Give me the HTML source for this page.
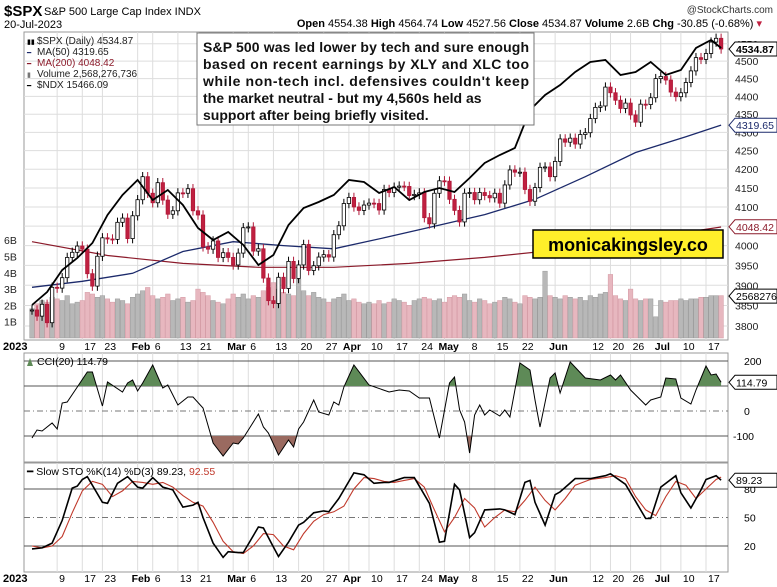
<!DOCTYPE html>
<html><head><meta charset="utf-8"><style>
body{margin:0;background:#fff;width:777px;height:587px;overflow:hidden;font-family:"Liberation Sans",sans-serif;}
svg{position:absolute;left:0;top:0}
text{font-family:"Liberation Sans",sans-serif}
</style></head><body>
<svg id="chart" width="777" height="587" viewBox="0 0 777 587"></svg>
<script>
const closes=[3839,3824,3853,3808,3895,3893,3919,3970,3983,3999,3991,3929,3898,3973,4020,4017,4016,4060,4071,4018,4077,
4119,4180,4136,4111,4164,4118,4081,4090,4137,4136,4148,4090,4079,3997,3991,4012,3970,3982,3970,
3951,3981,4046,4048,3986,3992,3918,3862,3855,3920,3892,3960,3917,3951,4003,3937,3949,3971,3977,3971,4028,4051,4109,
4125,4100,4091,4105,4110,4109,4092,4146,4138,4152,4155,4154,4130,4133,4137,4072,4056,4136,4169,
4168,4120,4091,4061,4136,4138,4119,4138,4130,4124,4136,4110,4158,4198,4192,4192,4146,4115,4151,4205,4206,4180,
4221,4282,4273,4284,4268,4294,4299,4338,4369,4373,4426,4410,4389,4366,4381,4348,4328,4378,4377,4396,4450,
4456,4446,4412,4399,4410,4439,4472,4510,4505,4522,4555,4566,4535];
const volumes=[1.8,2.1,2.3,2.2,2.5,2.4,2.3,2.6,2.1,2.2,2.3,2.8,2.7,2.5,2.6,2.4,2.2,2.4,2.3,2.1,2.5,
2.7,2.9,3.1,2.6,2.4,2.5,2.7,2.3,2.4,2.5,2.2,2.3,3.0,2.8,2.6,2.3,2.2,2.1,2.4,2.7,
2.5,2.7,2.4,2.6,2.5,2.9,3.1,3.4,3.0,2.8,2.7,2.6,3.6,2.9,2.6,2.8,2.5,2.4,2.2,2.4,
2.5,2.7,2.3,2.4,2.2,2.1,2.2,2.1,2.3,2.1,2.2,2.4,2.3,2.2,2.0,2.3,2.4,2.5,2.4,2.3,
2.4,2.2,2.5,2.6,2.5,2.7,2.3,2.2,2.4,2.3,2.1,2.2,2.3,2.5,2.4,2.2,2.1,2.6,2.5,2.4,
2.5,4.1,2.6,2.5,2.4,2.6,2.5,2.4,2.5,2.3,2.6,2.5,2.7,2.8,3.9,2.6,2.4,2.3,3.0,2.4,
2.3,2.4,2.4,1.3,2.3,2.2,2.3,2.3,2.4,2.3,2.4,2.4,2.5,2.5,2.6,2.6,2.6];
const ma50Pts=[[0,3895],[10,3910],[20,3930],[30,3985],[40,4010],[50,4000],[60,3992],[70,4020],[80,4050],[90,4080],[100,4120],[110,4180],[120,4245],[130,4288],[137,4320]];
const ma200Pts=[[0,4010],[15,3975],[30,3955],[45,3945],[60,3945],[75,3955],[90,3970],[105,3990],[120,4015],[137,4048]];
const ndxPts=[[0,11228],[3,11455],[6,11840],[9,12050],[12,12313],[15,12803],[18,13153],[21,13415],[24,13065],[27,13240],[30,12978],[33,12575],[36,12365],[39,12505],[42,12278],[45,11928],[48,12103],[51,12628],[54,12925],[57,13030],[60,13153],[63,13415],[66,13380],[69,13188],[72,13293],[75,13065],[78,13205],[81,13275],[84,13205],[87,13450],[90,13713],[93,13853],[96,13975],[99,14640],[102,14903],[105,15078],[108,15305],[111,15480],[114,15515],[117,15253],[120,15305],[123,15480],[126,15253],[129,15340],[132,15725],[135,15865],[137,15725]];
const cciPts=[[0,-108],[1,-76],[2,-80],[4,-48],[5,-72],[6,32],[7,36],[9,96],[11,156],[12,156],[14,20],[15,116],[18,76],[19,112],[20,124],[21,80],[22,112],[24,184],[26,92],[27,104],[29,24],[31,56],[32,56],[34,12],[36,-128],[38,-180],[40,-128],[41,-132],[42,-108],[45,-12],[46,-64],[47,-88],[49,-176],[51,-116],[52,-144],[53,-72],[54,-44],[56,44],[57,-4],[59,-16],[60,36],[61,24],[62,96],[64,184],[67,104],[71,76],[73,84],[75,80],[77,52],[79,52],[81,-108],[83,112],[84,136],[85,4],[86,-44],[87,-168],[88,-16],[89,24],[90,-16],[91,4],[93,-20],[94,4],[95,-24],[97,192],[99,164],[100,44],[101,-64],[103,132],[104,152],[105,72],[107,196],[110,132],[113,124],[115,144],[116,124],[117,144],[119,84],[120,64],[122,24],[123,44],[125,56],[126,132],[128,128],[129,52],[131,28],[132,84],[134,180],[135,144],[136,148],[137,114.79]];
const stoK=[[0,17],[2,18],[4,23],[6,47],[8,81],[9,83],[10,90],[11,93],[14,66],[15,65],[17,86],[19,93],[21,82],[22,81],[24,92],[26,82],[28,79],[30,61],[32,63],[33,66],[34,50],[36,23],[38,8],[39,14],[41,13],[42,13],[45,40],[46,39],[48,19],[49,9],[51,24],[53,42],[54,45],[56,55],[58,57],[59,56],[61,70],[64,97],[66,95],[68,86],[70,87],[71,87],[74,92],[76,92],[79,65],[81,24],[82,25],[84,85],[85,79],[87,29],[88,34],[90,58],[93,59],[94,58],[96,53],[98,87],[99,89],[100,66],[102,42],[104,74],[105,77],[108,91],[111,91],[114,94],[115,96],[118,85],[122,49],[123,49],[125,82],[128,94],[129,76],[131,60],[133,79],[134,90],[136,94],[137,89.23]];
const stoD=[[0,20],[2,18],[4,20],[6,30],[8,55],[10,78],[12,88],[14,85],[16,72],[18,78],[20,88],[22,87],[24,85],[26,87],[28,82],[30,73],[32,66],[34,62],[36,45],[38,25],[40,14],[42,12],[44,20],[46,33],[48,32],[50,20],[52,16],[54,33],[56,46],[58,53],[60,56],[62,62],[64,80],[66,92],[68,91],[70,88],[72,87],[74,89],[76,91],[78,82],[80,58],[82,35],[84,50],[86,70],[88,60],[90,40],[92,50],[94,58],[96,56],[98,68],[100,82],[102,68],[104,58],[106,70],[108,84],[111,90],[114,92],[116,94],[118,91],[120,72],[122,58],[124,52],[126,72],[128,88],[130,84],[132,70],[134,80],[136,90],[137,92.55]];
const priceTicks=[4550,4500,4450,4400,4350,4300,4250,4200,4150,4100,4050,4000,3950,3900,3850,3800];
const volTicks=[6,5,4,3,2,1];
const dateTicks=[[5,"9",0],[10,"17",0],[14,"23",0],[21,"Feb",1],[24,"6",0],[29,"13",0],[33,"21",0],[40,"Mar",1],[43,"6",0],[48,"13",0],[53,"20",0],[58,"27",0],[63,"Apr",1],[67,"10",0],[72,"17",0],[77,"24",0],[82,"May",1],[87,"8",0],[92,"15",0],[97,"22",0],[104,"Jun",1],[111,"12",0],[115,"20",0],[119,"26",0],[125,"Jul",1],[129,"10",0],[134,"17",0]];

const NS="http://www.w3.org/2000/svg";
const svg=document.getElementById('chart');
const L=24,R=728;
const x=i=>32+5.03*i;
const yP=p=>326-Math.log(p/3800)/0.180*282;
const yN=v=>318-(v-11000)/4900*280;
const yV=v=>338-v*16.3;
const yC=v=>411-v*0.25;
const yS=v=>546-(v-20)*0.95;
function el(tag,attrs,parent){const e=document.createElementNS(NS,tag);for(const k in attrs)e.setAttribute(k,attrs[k]);(parent||svg).appendChild(e);return e;}
function txt(s,a,p){const t=el('text',a,p);t.textContent=s;return t;}
function pline(pts,fx,fy){return pts.map(p=>x(p[0]).toFixed(1)+','+fy(p[1]).toFixed(1)).join(' ');}

let t;
t=txt('$SPX',{x:4,y:16,'font-size':15,'font-weight':'bold'});
t=txt('S&P 500 Large Cap Index  INDX',{x:44,y:15,'font-size':11});
t=txt('20-Jul-2023',{x:4,y:28,'font-size':11});
t=txt('@StockCharts.com',{x:773,y:13,'font-size':10,'text-anchor':'end',fill:'#333'});
t=el('text',{x:762,y:27,'font-size':11,'text-anchor':'end'});
t.innerHTML='<tspan font-weight="bold">Open</tspan> 4554.38 <tspan font-weight="bold">High</tspan> 4564.74 <tspan font-weight="bold">Low</tspan> 4527.56 <tspan font-weight="bold">Close</tspan> 4534.87 <tspan font-weight="bold">Volume</tspan> 2.6B <tspan font-weight="bold">Chg</tspan> -30.85 (-0.68%) <tspan fill="#c02040">▾</tspan>';

const panels=[['price-panel',32,340],['cci-panel',353,462],['sto-panel',463,572]];
panels.forEach(p=>{const r=el('rect',{x:L,y:p[1],width:R-L,height:p[2]-p[1],fill:'#fff',stroke:'#999','stroke-width':1});});
dateTicks.forEach(d=>{[[32,340],[353,462],[463,572]].forEach(r=>{el('line',{x1:x(d[0]),x2:x(d[0]),y1:r[0],y2:r[1],stroke:'#ddd','stroke-width':1});});});
priceTicks.forEach(p=>{const y=yP(p);el('line',{x1:L,x2:R,y1:y,y2:y,stroke:'#ddd'});const l=txt(p,{x:735,y:y+4,'font-size':10.5,fill:'#222'});});
volTicks.forEach(v=>{const l=txt(v+'B',{x:4,y:yV(v)+4,'font-size':10.5,fill:'#222'});});

const vg=el('g',{});
volumes.forEach((v,i)=>{const down=i>0&&closes[i]<closes[i-1];const b=el('rect',{x:x(i)-2.3,y:yV(v),width:4.6,height:338-yV(v),fill:down?'#e7b7bf':'#b8b8b8',stroke:down?'#d49aa4':'#9a9a9a','stroke-width':0.5},vg);});

let m=el('polyline',{points:pline(ma200Pts,x,yP),fill:'none',stroke:'#8b1a2a','stroke-width':1.2});
m=el('polyline',{points:pline(ma50Pts,x,yP),fill:'none',stroke:'#1c2a6b','stroke-width':1.3});

const cg=el('g',{});
closes.forEach((c,i)=>{const o=i>0?closes[i-1]:c;const hi=Math.max(o,c)*1.003,lo=Math.min(o,c)*0.997;const down=c<o;const col=down?'#b01838':'#000';
 const w=el('line',{x1:x(i),x2:x(i),y1:yP(hi),y2:yP(lo),stroke:col,'stroke-width':1},cg);
 const top=yP(Math.max(o,c)),bot=yP(Math.min(o,c));
 const b=el('rect',{x:x(i)-1.7,y:top,width:3.4,height:Math.max(1,bot-top),fill:down?'#c02040':'#fff',stroke:col,'stroke-width':0.8},cg);});

m=el('polyline',{points:pline(ndxPts,x,yN),fill:'none',stroke:'#000','stroke-width':1.8});

const lg=[['▮▮','$SPX (Daily) 4534.87','#000'],['━','MA(50) 4319.65','#1c2a6b'],['━','MA(200) 4048.42','#8b1a2a'],['▮','Volume 2,568,276,736','#777'],['━','$NDX 15466.09','#000']];
lg.forEach((l,k)=>{const y=44+k*11;const g=el('g',{});
 txt(l[0],{x:27,y:y,'font-size':7,fill:l[2]},g);txt(l[1],{x:37,y:y,'font-size':10,fill:k==2?'#8b1a2a':'#222'},g);});

const ag=el('g',{});
el('rect',{x:197,y:33,width:337,height:92,fill:'#fff',stroke:'#777'},ag);
['S&P 500 was led lower by tech and sure enough','based on recent earnings by XLY and XLC too','while non-tech incl. defensives couldn\'t keep','the market neutral - but my 4,560s held as','support after being briefly visited.'].forEach((s,k)=>txt(s,{x:203,y:52+k*17,'font-size':14,'font-weight':'bold',fill:'#111',textLength:k<3?326:null},ag));
const wg=el('g',{});
el('rect',{x:533,y:230,width:190,height:28,fill:'#ffef2a',stroke:'#000','stroke-width':1.5},wg);
txt('monicakingsley.co',{x:628,y:251,'font-size':18,'font-weight':'bold','text-anchor':'middle'},wg);

function tag(s,y,col,name){const g=el('g',{});
 el('path',{d:`M${R+1},${y} l6,-7 h42 v14 h-42 z`,fill:'#fff',stroke:col},g);txt(s,{x:R+8,y:y+4,'font-size':10.5,fill:col,'font-weight':name=='last-price-tag'?'bold':'normal'},g);}
tag('4534.87',yP(4534.87),'#000','last-price-tag');
tag('4319.65',yP(4319.65),'#1c2a6b','ma50-tag');
tag('4048.42',yP(4048.42),'#8b1a2a','ma200-tag');
tag('2568276',yV(2.57),'#000','volume-tag');

[346,578].forEach((yy,k)=>{const g=el('g',{});
 txt('2023',{x:3,y:yy+4,'font-size':11,'font-weight':'bold'},g);
 dateTicks.forEach(d=>{txt(d[1],{x:x(d[0])+(d[2]?-6:2),y:yy+4,'font-size':10.5,'font-weight':d[2]?'bold':'normal'},g);});});

[[200,''],[100,''],[0,'4 3'],[-100,'']].forEach(v=>{el('line',{x1:L,x2:R,y1:yC(v[0]),y2:yC(v[0]),stroke:v[0]==0?'#777':'#555','stroke-dasharray':v[0]==0?'6 3 1 3':'none'});
 if(v[0]!=100){const l=txt(v[0],{x:v[0]<0?733:744,y:yC(v[0])+4,'font-size':10.5});}});
const defs=el('defs',{});
const c1=el('clipPath',{id:'cAbove'},defs);el('rect',{x:L,y:353,width:R-L,height:yC(100)-353},c1);
const c2=el('clipPath',{id:'cBelow'},defs);el('rect',{x:L,y:yC(-100),width:R-L,height:462-yC(-100)},c2);
const cp=pline(cciPts,x,yC);
const first=cciPts[0][0],last=cciPts[cciPts.length-1][0];
m=el('polygon',{points:`${x(first)},${yC(100)} ${cp} ${x(last)},${yC(100)}`,fill:'#5e8a57',stroke:'none','clip-path':'url(#cAbove)'});
m=el('polygon',{points:`${x(first)},${yC(-100)} ${cp} ${x(last)},${yC(-100)}`,fill:'#9a6a60',stroke:'none','clip-path':'url(#cBelow)'});
m=el('polyline',{points:cp,fill:'none',stroke:'#000','stroke-width':1});
tag('114.79',yC(114.79),'#000','cci-tag');
t=txt('CCI(20) 114.79',{x:37,y:365,'font-size':10.5});
el('path',{d:'M27,366 l3,-8 l3,8 z',fill:'#5e8a57'});

[[80,''],[50,'d'],[20,'']].forEach(v=>{el('line',{x1:L,x2:R,y1:yS(v[0]),y2:yS(v[0]),stroke:v[1]?'#777':'#555','stroke-dasharray':v[1]?'6 3 1 3':'none'});
 const l=txt(v[0],{x:744,y:yS(v[0])+4,'font-size':10.5});});
m=el('polyline',{points:pline(stoD,x,yS),fill:'none',stroke:'#c0392b','stroke-width':1.1});
m=el('polyline',{points:pline(stoK,x,yS),fill:'none',stroke:'#000','stroke-width':1.6});
tag('89.23',yS(89.23),'#000','sto-tag');
t=el('text',{x:27,y:475,'font-size':10.5});
t.innerHTML='━ Slow STO %K(14) %D(3) 89.23, <tspan fill="#c0392b">92.55</tspan>';
</script>
</body></html>
